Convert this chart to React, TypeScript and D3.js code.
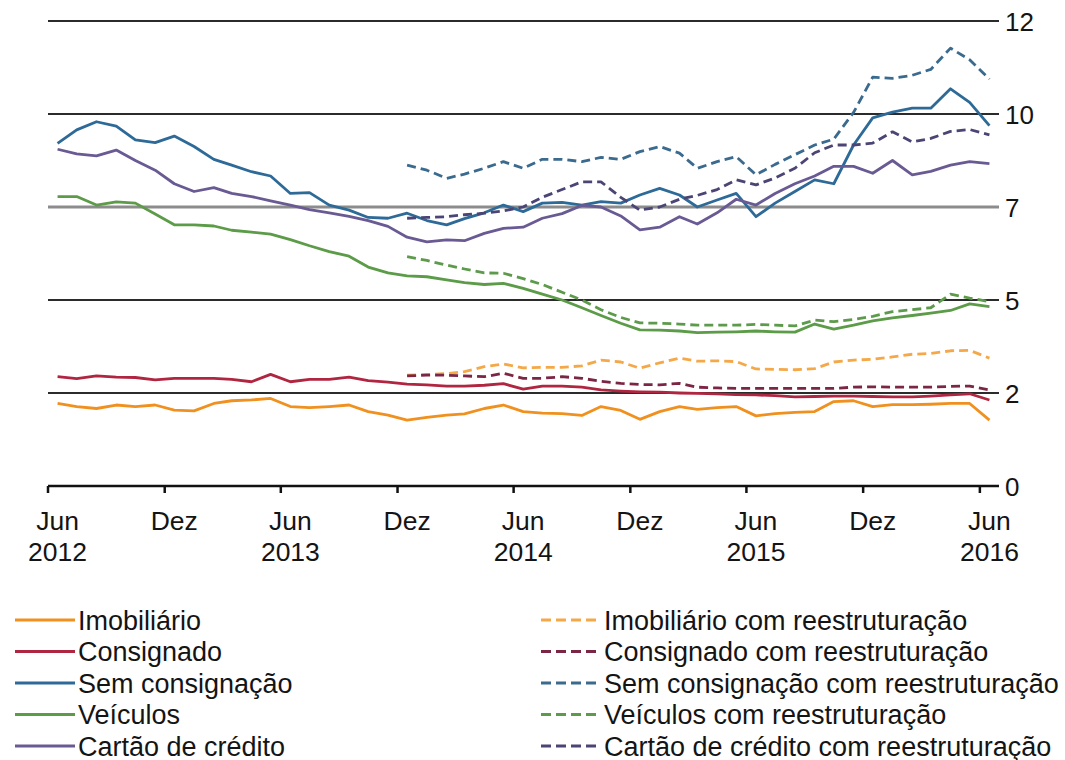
import React from "react";
import * as d3 from "d3";

// ---- data (monthly, Jun 2012 .. Jun 2016) ----
const START = new Date(2012, 5, 1);
const N_MONTHS = 49;
const RESTRUCT_START = 18; // Dez 2013

const imobiliario = [2.13, 2.05, 2.0, 2.09, 2.05, 2.09, 1.96, 1.94, 2.13, 2.2, 2.22, 2.26, 2.05, 2.02, 2.05, 2.09, 1.92, 1.83, 1.7, 1.77, 1.83, 1.86, 2.0, 2.09, 1.92, 1.88, 1.87, 1.82, 2.05, 1.95, 1.72, 1.92, 2.05, 1.98, 2.02, 2.05, 1.81, 1.87, 1.9, 1.92, 2.18, 2.2, 2.05, 2.1, 2.1, 2.11, 2.13, 2.13, 1.7];
const consignado = [2.82, 2.77, 2.84, 2.81, 2.8, 2.74, 2.78, 2.78, 2.78, 2.75, 2.69, 2.88, 2.69, 2.75, 2.75, 2.81, 2.72, 2.68, 2.63, 2.61, 2.58, 2.58, 2.6, 2.64, 2.5, 2.58, 2.58, 2.55, 2.48, 2.45, 2.43, 2.42, 2.4, 2.39, 2.38, 2.36, 2.35, 2.33, 2.3, 2.31, 2.32, 2.32, 2.31, 2.3, 2.3, 2.32, 2.35, 2.38, 2.22];
const semConsignacao = [8.84, 9.19, 9.4, 9.29, 8.93, 8.86, 9.03, 8.76, 8.43, 8.28, 8.11, 8.0, 7.55, 7.57, 7.25, 7.12, 6.93, 6.91, 7.04, 6.85, 6.74, 6.9, 7.05, 7.25, 7.08, 7.3, 7.32, 7.25, 7.34, 7.3, 7.51, 7.68, 7.51, 7.2, 7.38, 7.55, 6.95, 7.3, 7.6, 7.9, 7.8, 8.8, 9.5, 9.65, 9.75, 9.75, 10.25, 9.9, 9.3];
const veiculos = [7.47, 7.47, 7.25, 7.33, 7.3, 7.02, 6.74, 6.74, 6.71, 6.6, 6.55, 6.5, 6.36, 6.2, 6.05, 5.93, 5.65, 5.5, 5.42, 5.4, 5.32, 5.25, 5.2, 5.23, 5.1, 4.95, 4.8, 4.6, 4.4, 4.2, 4.03, 4.02, 4.0, 3.96, 3.97, 3.98, 4.0, 3.98, 3.97, 4.18, 4.05, 4.15, 4.26, 4.34, 4.4, 4.46, 4.53, 4.7, 4.63];
const cartao = [8.69, 8.57, 8.52, 8.67, 8.4, 8.15, 7.8, 7.6, 7.7, 7.55, 7.47, 7.36, 7.25, 7.13, 7.05, 6.96, 6.85, 6.7, 6.42, 6.3, 6.35, 6.33, 6.52, 6.65, 6.68, 6.91, 7.03, 7.24, 7.2, 6.97, 6.61, 6.68, 6.95, 6.76, 7.05, 7.4, 7.25, 7.55, 7.8, 8.0, 8.25, 8.25, 8.07, 8.4, 8.03, 8.12, 8.28, 8.37, 8.32];

// "com reestruturação" series, Dez 2013 .. Jun 2016
const imobiliarioR = [2.86, 2.88, 2.9, 2.95, 3.08, 3.15, 3.05, 3.06, 3.06, 3.1, 3.25, 3.2, 3.04, 3.18, 3.3, 3.22, 3.23, 3.21, 3.02, 3.01, 3.0, 3.03, 3.2, 3.25, 3.27, 3.33, 3.4, 3.42, 3.49, 3.5, 3.3];
const consignadoR = [2.84, 2.86, 2.86, 2.84, 2.82, 2.91, 2.78, 2.78, 2.82, 2.78, 2.7, 2.65, 2.62, 2.61, 2.65, 2.55, 2.53, 2.52, 2.52, 2.52, 2.52, 2.52, 2.52, 2.55, 2.56, 2.55, 2.55, 2.55, 2.57, 2.58, 2.48];
const semConsignacaoR = [8.28, 8.15, 7.94, 8.05, 8.2, 8.37, 8.2, 8.43, 8.43, 8.37, 8.48, 8.43, 8.63, 8.76, 8.59, 8.2, 8.37, 8.5, 8.03, 8.3, 8.55, 8.8, 8.95, 9.64, 10.55, 10.52, 10.6, 10.75, 11.3, 11.0, 10.5];
const veiculosR = [5.92, 5.82, 5.7, 5.6, 5.5, 5.49, 5.35, 5.2, 5.0, 4.8, 4.55, 4.35, 4.21, 4.2, 4.18, 4.15, 4.15, 4.15, 4.17, 4.15, 4.13, 4.28, 4.24, 4.3, 4.38, 4.5, 4.55, 4.6, 4.95, 4.85, 4.76];
const cartaoR = [6.91, 6.93, 6.95, 7.0, 7.04, 7.1, 7.2, 7.45, 7.65, 7.85, 7.85, 7.45, 7.12, 7.2, 7.4, 7.5, 7.65, 7.9, 7.77, 7.95, 8.2, 8.6, 8.8, 8.8, 8.85, 9.14, 8.88, 8.97, 9.15, 9.2, 9.06];

const yTicks = [0, 2.4, 4.8, 7.2, 9.6, 12];
const xTickLabels = [
  ["Jun", "2012"], ["Dez"], ["Jun", "2013"], ["Dez"], ["Jun", "2014"],
  ["Dez"], ["Jun", "2015"], ["Dez"], ["Jun", "2016"],
];

const solidSeries = [
  { name: "Imobiliário", values: imobiliario, color: "#f0901f" },
  { name: "Consignado", values: consignado, color: "#b02540" },
  { name: "Sem consignação", values: semConsignacao, color: "#2e6a97" },
  { name: "Veículos", values: veiculos, color: "#5c9b48" },
  { name: "Cartão de crédito", values: cartao, color: "#6a5a93" },
];
const dashedSeries = [
  { name: "Imobiliário com reestruturação", values: imobiliarioR, color: "#f4a847" },
  { name: "Consignado com reestruturação", values: consignadoR, color: "#7c2646" },
  { name: "Sem consignação com reestruturação", values: semConsignacaoR, color: "#3a6a8e" },
  { name: "Veículos com reestruturação", values: veiculosR, color: "#5e9a4b" },
  { name: "Cartão de crédito com reestruturação", values: cartaoR, color: "#4a4574" },
];

const W = 1065;
const H = 760;
const FONT = "'Liberation Sans', Arial, sans-serif";

export default function App() {
  const x = d3
    .scaleTime()
    .domain([START, d3.timeMonth.offset(START, N_MONTHS)])
    .range([48, 999]);
  const y = d3.scaleLinear().domain([0, 12]).range([486, 21]);
  const monthMid = (i: number) =>
    d3.timeDay.offset(d3.timeMonth.offset(START, i), 15);

  const line = d3
    .line<{ i: number; v: number }>()
    .x((d) => x(monthMid(d.i)))
    .y((d) => y(d.v));

  const toPts = (vals: number[], offset: number) =>
    vals.map((v, k) => ({ i: k + offset, v }));

  const tickDates = d3.range(0, N_MONTHS, 6).map((m) => d3.timeMonth.offset(START, m));
  const fmtY = d3.format(".0f");

  const legendRowY = (k: number) => 620 + k * 31.5;

  return (
    <svg
      width={W}
      height={H}
      style={{ position: "absolute", left: 0, top: 0, background: "#fff" }}
      fontFamily={FONT}
    >
      <rect x={0} y={0} width={W} height={H} fill="#fff" />
      {/* gridlines */}
      {yTicks.slice(1).map((t) => (
        <line
          key={t}
          x1={x.range()[0]}
          x2={x.range()[1]}
          y1={y(t)}
          y2={y(t)}
          stroke={t === 7.2 ? "#8c8c8c" : "#2b2b2b"}
          strokeWidth={t === 7.2 ? 3 : 2}
        />
      ))}
      {/* x axis */}
      <line x1={x.range()[0]} x2={x.range()[1]} y1={y(0)} y2={y(0)} stroke="#111" strokeWidth={2.5} />
      {tickDates.map((d, k) => (
        <g key={k}>
          <line x1={x(d)} x2={x(d)} y1={y(0)} y2={y(0) + 7} stroke="#111" strokeWidth={2.5} />
          {xTickLabels[k].map((s, j) => (
            <text
              key={j}
              x={x(d3.timeDay.offset(d, 15))}
              y={530 + j * 31}
              textAnchor="middle"
              fontSize={26.5}
              fill="#141414"
            >
              {s}
            </text>
          ))}
        </g>
      ))}
      {/* y labels on right */}
      {yTicks.map((t) => (
        <text key={t} x={1005} y={y(t) + 9.5} fontSize={26} fill="#141414">
          {fmtY(t)}
        </text>
      ))}
      {/* lines */}
      {solidSeries.map((s) => (
        <path
          key={s.name}
          d={line(toPts(s.values, 0)) || ""}
          fill="none"
          stroke={s.color}
          strokeWidth={2.8}
          strokeLinejoin="round"
        />
      ))}
      {dashedSeries.map((s) => (
        <path
          key={s.name}
          d={line(toPts(s.values, RESTRUCT_START)) || ""}
          fill="none"
          stroke={s.color}
          strokeWidth={2.8}
          strokeDasharray="9 5"
          strokeLinejoin="round"
        />
      ))}
      {/* legend */}
      {solidSeries.map((s, k) => (
        <g key={s.name}>
          <line x1={15} x2={75} y1={legendRowY(k)} y2={legendRowY(k)} stroke={s.color} strokeWidth={2.8} />
          <text x={78} y={legendRowY(k) + 9.5} fontSize={27} fill="#141414">
            {s.name}
          </text>
        </g>
      ))}
      {dashedSeries.map((s, k) => (
        <g key={s.name}>
          <line
            x1={541}
            x2={601}
            y1={legendRowY(k)}
            y2={legendRowY(k)}
            stroke={s.color}
            strokeWidth={2.8}
            strokeDasharray="10 5"
          />
          <text x={604} y={legendRowY(k) + 9.5} fontSize={27} fill="#141414">
            {s.name}
          </text>
        </g>
      ))}
    </svg>
  );
}
